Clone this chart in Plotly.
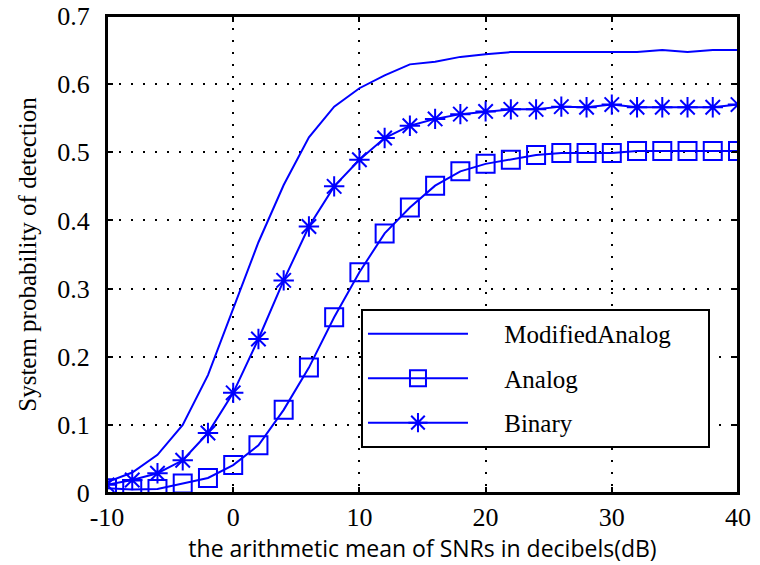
import plotly.graph_objects as go

snr_db = [-10, -8, -6, -4, -2, 0, 2, 4, 6, 8, 10, 12, 14, 16, 18, 20,
          22, 24, 26, 28, 30, 32, 34, 36, 38, 40]

modified_analog = [0.016, 0.030, 0.056, 0.100, 0.173, 0.272, 0.368, 0.452, 0.522, 0.567,
                   0.594, 0.613, 0.629, 0.633, 0.640, 0.644, 0.647, 0.647, 0.647, 0.647,
                   0.647, 0.647, 0.650, 0.647, 0.650, 0.650]

analog = [0.007, 0.005, 0.006, 0.014, 0.022, 0.041, 0.070, 0.122, 0.184, 0.258,
          0.324, 0.381, 0.419, 0.451, 0.472, 0.483, 0.489, 0.496, 0.499, 0.499,
          0.499, 0.502, 0.502, 0.502, 0.502, 0.502]

binary = [0.012, 0.019, 0.029, 0.048, 0.088, 0.147, 0.226, 0.312, 0.391, 0.450,
          0.489, 0.521, 0.539, 0.549, 0.556, 0.560, 0.563, 0.563, 0.567, 0.566,
          0.570, 0.566, 0.566, 0.566, 0.566, 0.570]

x_ticks = [-10, 0, 10, 20, 30, 40]
y_ticks = [0, 0.1, 0.2, 0.3, 0.4, 0.5, 0.6, 0.7]
y_tick_text = ["0", "0.1", "0.2", "0.3", "0.4", "0.5", "0.6", "0.7"]
series_names = ["ModifiedAnalog", "Analog", "Binary"]

BLUE = "#0000FF"
SERIF = "Liberation Serif"
PAD = "\u00a0" * 5

fig = go.Figure()
fig.add_trace(go.Scatter(
    x=snr_db, y=modified_analog, mode="lines", name=PAD + series_names[0] + PAD,
    line=dict(color=BLUE, width=2), legendgroup="a"))
fig.add_trace(go.Scatter(
    x=snr_db, y=analog, mode="lines+markers", name=PAD + series_names[1],
    line=dict(color=BLUE, width=2), legendgroup="b",
    marker=dict(symbol="square-open", size=18, color=BLUE, line=dict(width=2, color=BLUE))))
fig.add_trace(go.Scatter(
    x=snr_db, y=binary, mode="lines+markers", name=PAD + series_names[2],
    line=dict(color=BLUE, width=2), legendgroup="c",
    marker=dict(symbol="asterisk-open", size=17, color=BLUE, line=dict(width=2, color=BLUE))))

axis_common = dict(
    showline=True, linecolor="black", linewidth=2, mirror="ticks",
    ticks="inside", ticklen=6, tickwidth=2, tickcolor="black",
    showgrid=True, gridcolor="black", gridwidth=1.5, griddash="2px,10px",
    zeroline=False, automargin=False, ticklabeloverflow="allow",
    tickfont=dict(family=SERIF, size=26, color="black"),
)

fig.update_xaxes(
    range=[-10, 40], tickvals=x_ticks, ticktext=[str(v) for v in x_ticks],
    title=dict(text="the arithmetic mean of SNRs in decibels(dB)",
               font=dict(family="Open Sans", size=23, color="black"), standoff=6),
    **axis_common)
fig.update_yaxes(
    range=[0, 0.7], tickvals=y_ticks, ticktext=y_tick_text, ticklabelstandoff=10,
    title=dict(text="System probability of detection",
               font=dict(family=SERIF, size=25, color="black"), standoff=14),
    **axis_common)

# plot frame (box around the axes area)
fig.add_shape(type="rect", xref="paper", yref="paper", x0=0, x1=1, y0=0, y1=1,
              line=dict(color="black", width=2), fillcolor="rgba(0,0,0,0)", layer="above")

fig.update_layout(
    width=760, height=565,
    margin=dict(l=107, r=22, t=16, b=72),
    paper_bgcolor="white", plot_bgcolor="white",
    showlegend=True,
    legend=dict(
        x=0.4025, y=0.386, xanchor="left", yanchor="top",
        bgcolor="white", bordercolor="black", borderwidth=2,
        font=dict(family=SERIF, size=25, color="black"),
        itemwidth=100, tracegroupgap=9,
    ),
)

# remove the default 8px page margin so the figure sits at the window's corner
fig.write_html("out.html", config={"displayModeBar": False},
               post_script="document.body.style.margin='0px';")
